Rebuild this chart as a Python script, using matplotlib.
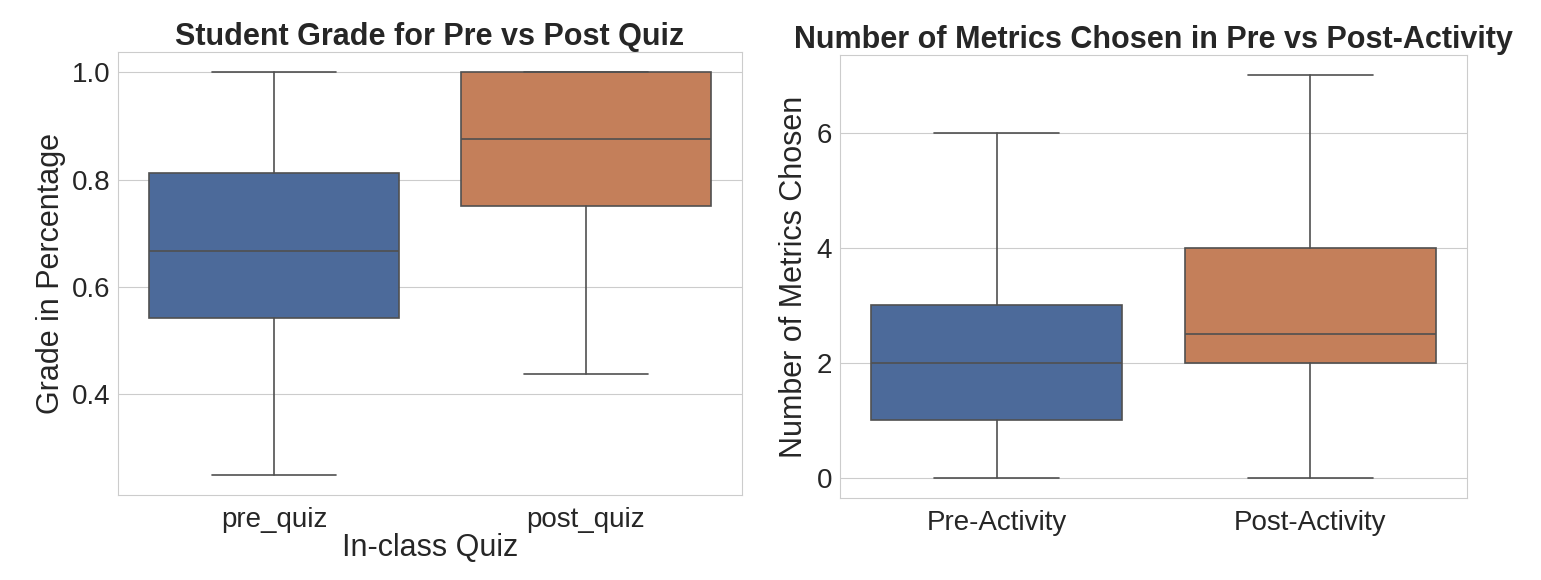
import matplotlib
matplotlib.use("Agg")
from matplotlib import pyplot as plt
import seaborn as sns

# box statistics
quiz_labels = ["pre_quiz", "post_quiz"]
quiz_whislo = [0.25, 0.4375]
quiz_q1 = [0.5417, 0.75]
quiz_med = [0.6667, 0.875]
quiz_q3 = [0.8125, 1.0]
quiz_whishi = [1.0, 1.0]

metric_labels = ["Pre-Activity", "Post-Activity"]
metric_whislo = [0, 0]
metric_q1 = [1, 2]
metric_med = [2, 2.5]
metric_q3 = [3, 4]
metric_whishi = [6, 7]

colors = ["#4c6a9a", "#c47f5a"]
edge = "#505050"

sns.set_style("whitegrid")
plt.rcParams['font.family'] = ['Liberation Sans', 'DejaVu Sans']


def make_stats(labels, lo, q1, med, q3, hi):
    return [dict(label=l, whislo=a, q1=b, med=c, q3=d, whishi=e, fliers=[])
            for l, a, b, c, d, e in zip(labels, lo, q1, med, q3, hi)]


def draw(ax, stats):
    bp = ax.bxp(stats, positions=[0, 1], widths=0.8, patch_artist=True,
                showfliers=False, capwidths=0.4,
                boxprops=dict(edgecolor=edge, linewidth=1.2),
                medianprops=dict(color=edge, linewidth=1.2),
                whiskerprops=dict(color=edge, linewidth=1.2),
                capprops=dict(color=edge, linewidth=1.2))
    for patch, c in zip(bp['boxes'], colors):
        patch.set_facecolor(c)
    ax.set_xlim(-0.5, 1.5)
    ax.grid(axis='x', visible=False)
    ax.tick_params(labelsize=20)
    ax.tick_params(axis='y', pad=2)
    ax.tick_params(axis='x', pad=5)
    for s in ax.spines.values():
        s.set_color("#cccccc")


fig = plt.figure(figsize=(15.41, 5.8), dpi=100)
ax1 = fig.add_axes([118 / 1541, 1 - 495 / 580, 624 / 1541, 443 / 580])
ax2 = fig.add_axes([840 / 1541, 1 - 498 / 580, 627 / 1541, 443 / 580])

draw(ax1, make_stats(quiz_labels, quiz_whislo, quiz_q1, quiz_med, quiz_q3, quiz_whishi))
ax1.set_yticks([0.4, 0.6, 0.8, 1.0])
ax1.set_title("Student Grade for Pre vs Post Quiz", fontsize=22, fontweight='bold', pad=5)
ax1.set_ylabel("Grade in Percentage", fontsize=22, labelpad=4)
ax1.set_xlabel("In-class Quiz", fontsize=22, labelpad=0)

draw(ax2, make_stats(metric_labels, metric_whislo, metric_q1, metric_med, metric_q3, metric_whishi))
ax2.set_yticks([0, 2, 4, 6])
ax2.set_title("Number of Metrics Chosen in Pre vs Post-Activity", fontsize=22, fontweight='bold', pad=5)
ax2.set_ylabel("Number of Metrics Chosen", fontsize=22, labelpad=6)

fig.savefig("out.png", dpi=100)
